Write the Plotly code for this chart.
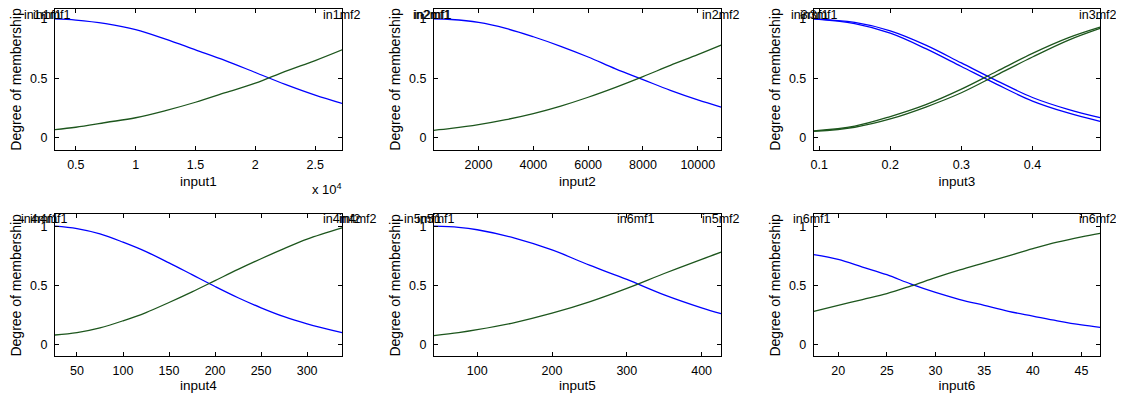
import plotly.graph_objects as go

W, H = 1108, 385   # fits the 1124x401 window inside the page's 8px body margin
OFF = 8
FONT = "Liberation Sans, Arial, sans-serif"

# ---- membership values ----
x1 = [3250, 5000, 7500, 10000, 12500, 15000, 17500, 20000, 22500, 25000, 27250]
in1mf1 = [1.0, 0.99, 0.96, 0.91, 0.83, 0.74, 0.65, 0.55, 0.45, 0.36, 0.29]
in1mf2 = [0.07, 0.09, 0.13, 0.17, 0.23, 0.30, 0.38, 0.46, 0.56, 0.65, 0.74]

x2 = [370, 1000, 2000, 3000, 4000, 5000, 6000, 7000, 8000, 9000, 10000, 10850]
in2mf1 = [1.0, 0.995, 0.97, 0.92, 0.85, 0.77, 0.68, 0.58, 0.49, 0.40, 0.32, 0.26]
in2mf2 = [0.064, 0.08, 0.112, 0.154, 0.205, 0.268, 0.342, 0.425, 0.515, 0.61, 0.70, 0.78]

x3 = [0.0925, 0.15, 0.2, 0.25, 0.3, 0.35, 0.4, 0.45, 0.495]
in3mf1_a = [1.0, 0.97, 0.90, 0.78, 0.63, 0.48, 0.34, 0.24, 0.17]
in3mf1_b = [1.0, 0.96, 0.88, 0.75, 0.60, 0.45, 0.31, 0.21, 0.14]
in3mf2_a = [0.06, 0.10, 0.18, 0.28, 0.41, 0.56, 0.71, 0.84, 0.93]
in3mf2_b = [0.055, 0.09, 0.16, 0.26, 0.38, 0.53, 0.68, 0.82, 0.92]

x4 = [26, 50, 75, 100, 125, 150, 175, 200, 225, 250, 275, 300, 338]
in4mf1 = [1.0, 0.98, 0.935, 0.865, 0.785, 0.69, 0.59, 0.49, 0.395, 0.31, 0.235, 0.175, 0.10]
in4mf2 = [0.08, 0.10, 0.14, 0.20, 0.27, 0.355, 0.445, 0.54, 0.635, 0.725, 0.81, 0.89, 0.985]

x5 = [42, 75, 100, 150, 200, 250, 300, 350, 400, 426]
in5mf1 = [1.0, 0.99, 0.97, 0.90, 0.80, 0.67, 0.55, 0.42, 0.31, 0.26]
in5mf2 = [0.075, 0.10, 0.125, 0.185, 0.264, 0.36, 0.474, 0.60, 0.72, 0.78]

x6 = [17.5, 20, 22.5, 25, 27.5, 30, 32.5, 35, 37.5, 40, 42.5, 45, 46.9]
in6mf1 = [0.76, 0.72, 0.655, 0.59, 0.51, 0.44, 0.38, 0.33, 0.28, 0.24, 0.20, 0.165, 0.145]
in6mf2 = [0.28, 0.33, 0.38, 0.43, 0.495, 0.565, 0.63, 0.69, 0.75, 0.81, 0.865, 0.91, 0.94]

panels = [
    dict(x=x1, mf1=[in1mf1], mf2=[in1mf2], rng=[3250, 27250],
         tv=[5000, 10000, 15000, 20000, 25000], tt=["0.5", "1", "1.5", "2", "2.5"], title="input1"),
    dict(x=x2, mf1=[in2mf1], mf2=[in2mf2], rng=[370, 10850],
         tv=[2000, 4000, 6000, 8000, 10000], tt=["2000", "4000", "6000", "8000", "10000"], title="input2"),
    dict(x=x3, mf1=[in3mf1_a, in3mf1_b], mf2=[in3mf2_a, in3mf2_b], rng=[0.0925, 0.495],
         tv=[0.1, 0.2, 0.3, 0.4], tt=["0.1", "0.2", "0.3", "0.4"], title="input3"),
    dict(x=x4, mf1=[in4mf1], mf2=[in4mf2], rng=[26, 338],
         tv=[50, 100, 150, 200, 250, 300], tt=["50", "100", "150", "200", "250", "300"], title="input4"),
    dict(x=x5, mf1=[in5mf1], mf2=[in5mf2], rng=[42, 426],
         tv=[100, 200, 300, 400], tt=["100", "200", "300", "400"], title="input5"),
    dict(x=x6, mf1=[in6mf1], mf2=[in6mf2], rng=[17.5, 46.9],
         tv=[20, 25, 30, 35, 40, 45], tt=["20", "25", "30", "35", "40", "45"], title="input6"),
]

# mf labels along the top of each panel (text, left px, row)
labels = [
    ("in1mf1", 19, 0), ("in1mf1", 28, 0), ("in1mf2", 319, 0),
    ("in2mf1", 409, 0), ("in2mf1", 410, 0), ("in2mf2", 699, 0),
    ("in3mf1", 788, 0), ("in3mf1", 797, 0), ("in3mf2", 1077, 0),
    ("in4mf1", 16, 1), ("in4mf1", 25, 1), ("in4mf2", 319, 1), ("in4mf2", 335, 1),
    ("in5mf1", 400, 1), ("in5mf1", 413, 1), ("in6mf1", 614, 1), ("in5mf2", 699, 1),
    ("in6mf1", 790, 1), ("in6mf2", 1077, 1),
]

cols_px = [(52, 340), (432, 720), (813, 1100)]
rows_px = [(8, 150), (215, 358)]
yranges = [[-0.1, 1.083], [-0.1, 1.1]]


def px(xp):
    return (xp - OFF) / W


def py(yp):
    return min(1, 1 - (yp - OFF) / H)


fig = go.Figure()
blue = "#0000ff"
green = "#1d561d"

for i, p in enumerate(panels):
    n = i + 1
    xa = "x" if n == 1 else f"x{n}"
    ya = "y" if n == 1 else f"y{n}"
    for ys in p["mf1"]:
        fig.add_trace(go.Scatter(x=p["x"], y=ys, mode="lines", line=dict(color=blue, width=1.3, shape="spline"),
                                 xaxis=xa, yaxis=ya, showlegend=False))
    for ys in p["mf2"]:
        fig.add_trace(go.Scatter(x=p["x"], y=ys, mode="lines", line=dict(color=green, width=1.3, shape="spline"),
                                 xaxis=xa, yaxis=ya, showlegend=False))

    r, c = divmod(i, 3)
    x0, x1p = cols_px[c]
    y0, y1p = rows_px[r]
    common = dict(showline=True, linecolor="black", linewidth=1, mirror="ticks", ticks="inside",
                  ticklen=4, tickcolor="black", showgrid=False, zeroline=False,
                  tickfont=dict(family=FONT, size=12.5, color="black"))
    fig.update_layout(**{
        ("xaxis" if n == 1 else f"xaxis{n}"): dict(
            common, domain=[px(x0), px(x1p)], range=p["rng"], anchor=ya,
            tickvals=p["tv"], ticktext=p["tt"], ticklabelstandoff=3,
            title=dict(text=p["title"], font=dict(family=FONT, size=13.5, color="black"), standoff=5)),
        ("yaxis" if n == 1 else f"yaxis{n}"): dict(
            common, domain=[py(y1p), py(y0)], range=yranges[r], anchor=xa,
            tickvals=[0, 0.5, 1], ticktext=["0", "0.5", "1"], ticklabelstandoff=4,
            title=dict(text="Degree of membership", font=dict(family=FONT, size=14, color="black"), standoff=5)),
    })

for txt, xp, r in labels:
    yp = 14 if r == 0 else 220
    fig.add_annotation(text=txt, x=px(xp), y=py(yp), xref="paper", yref="paper",
                       xanchor="left", yanchor="middle", showarrow=False,
                       font=dict(family=FONT, size=12.5, color="black"))

fig.add_annotation(text="x 10<sup>4</sup>", x=px(308), y=py(189), xref="paper", yref="paper",
                   xanchor="left", yanchor="middle", showarrow=False,
                   font=dict(family=FONT, size=13, color="black"))

fig.update_layout(width=W, height=H, margin=dict(l=0, r=0, t=0, b=0),
                  paper_bgcolor="white", plot_bgcolor="white")

fig.write_html("out.html")
